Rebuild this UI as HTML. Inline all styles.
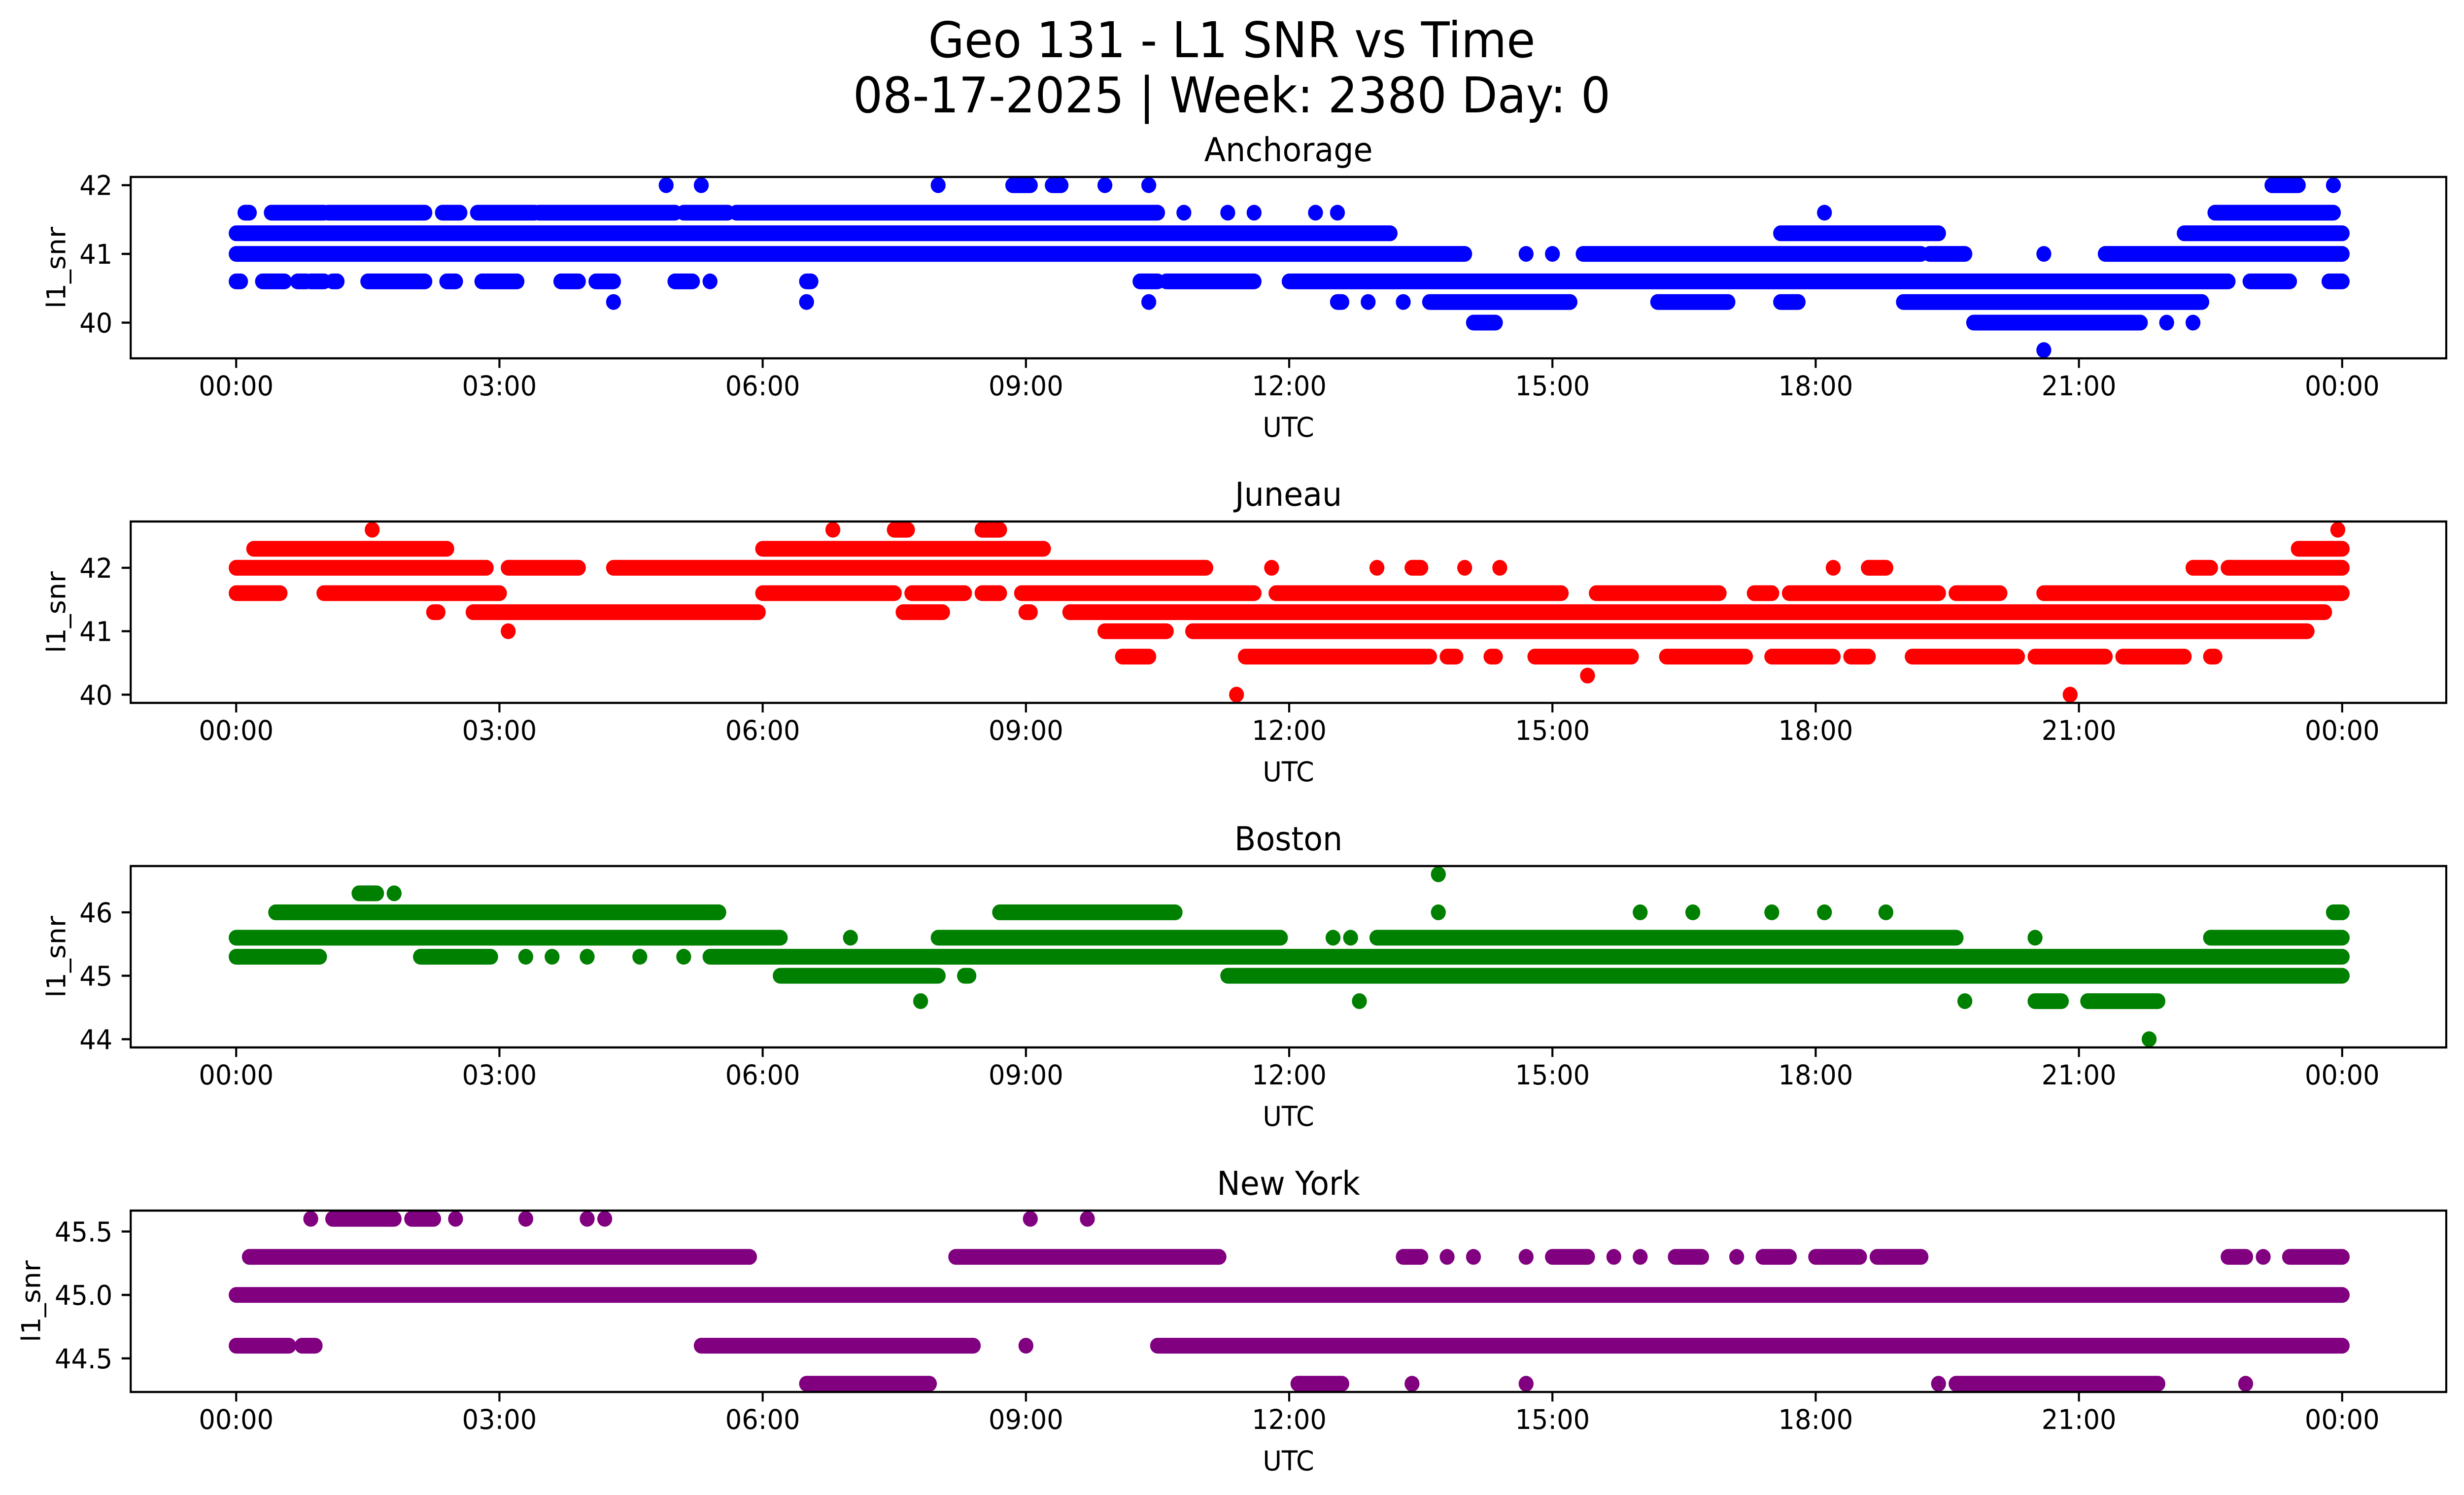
<!DOCTYPE html>
<html><head><meta charset="utf-8"><style>
html,body{margin:0;padding:0;background:#fff;overflow:hidden;width:100%;height:100%}
svg{display:block;width:100vw;height:100vh}
text{font-family:"DejaVu Sans","Liberation Sans",sans-serif;fill:#000}
</style></head><body>
<svg id="chart" viewBox="0 0 5279 3033" preserveAspectRatio="none" xmlns="http://www.w3.org/2000/svg">
<rect width="5279" height="3033" fill="#fff"/>
<text x="2639" y="116" font-size="100" text-anchor="middle">Geo 131 - L1 SNR vs Time</text>
<text x="2639" y="228" font-size="100" text-anchor="middle">08-17-2025 | Week: 2380 Day: 0</text>
</svg>
<script>
// x tick labels (hours)
const xTickHours = [0,3,6,9,12,15,18,21,24];
const xTickLabels = ["00:00","03:00","06:00","09:00","12:00","15:00","18:00","21:00","00:00"];
// station names, colors
const stations = ["Anchorage","Juneau","Boston","New York"];
const colors = ["#0000ff","#ff0000","#008000","#800080"];
const yTicks = [[40,41,42],[40,41,42],[44,45,46],[44.5,45.0,45.5]];
const yTickLabels = [["40","41","42"],["40","41","42"],["44","45","46"],["44.5","45.0","45.5"]];
// runs of observations: [snr level, start hour, end hour]
const anchorageRuns = [
[41.3,0,13.15],[41.3,17.6,19.4],[41.3,22.2,24],
[41,0,14.0],[41,14.7,14.7],[41,15.0,15.0],[41,15.35,19.2],[41,19.3,19.7],[41,20.6,20.6],[41,21.3,24],
[41.6,0.1,0.15],[41.6,0.4,1.0],[41.6,1.05,2.15],[41.6,2.35,2.55],[41.6,2.75,3.4],[41.6,3.45,5.0],[41.6,5.1,5.6],[41.6,5.7,10.5],[41.6,10.8,10.8],[41.6,11.3,11.3],[41.6,11.6,11.6],[41.6,12.3,12.3],[41.6,12.55,12.55],[41.6,18.1,18.1],[41.6,22.55,23.9],
[42,4.9,4.9],[42,5.3,5.3],[42,8.0,8.0],[42,8.85,9.05],[42,9.3,9.4],[42,9.9,9.9],[42,10.4,10.4],[42,23.2,23.5],[42,23.9,23.9],
[40.6,0,0.05],[40.6,0.3,0.55],[40.6,0.7,0.8],[40.6,0.85,1.0],[40.6,1.1,1.15],[40.6,1.5,2.15],[40.6,2.4,2.5],[40.6,2.8,3.2],[40.6,3.7,3.9],[40.6,4.1,4.3],[40.6,5.0,5.2],[40.6,5.4,5.4],[40.6,6.5,6.55],[40.6,10.3,10.5],[40.6,10.6,11.6],[40.6,12.0,22.7],[40.6,22.95,23.4],[40.6,23.85,24],
[40.3,4.3,4.3],[40.3,6.5,6.5],[40.3,10.4,10.4],[40.3,12.55,12.6],[40.3,12.9,12.9],[40.3,13.3,13.3],[40.3,13.6,15.2],[40.3,16.2,17.0],[40.3,17.6,17.8],[40.3,19.0,22.4],
[40,14.1,14.35],[40,19.8,21.7],[40,22.0,22.0],[40,22.3,22.3],
[39.6,20.6,20.6]];
const juneauRuns = [
[42.3,0.2,2.4],[42.3,6.0,9.2],[42.3,23.5,24],
[42,0,2.85],[42,3.1,3.9],[42,4.3,11.05],[42,11.8,11.8],[42,13.0,13.0],[42,13.4,13.5],[42,14.0,14.0],[42,14.4,14.4],[42,18.2,18.2],[42,18.6,18.8],[42,22.3,22.5],[42,22.7,24],
[41.6,0,0.5],[41.6,1.0,3.0],[41.6,6.0,7.5],[41.6,7.7,8.3],[41.6,8.5,8.7],[41.6,8.95,11.6],[41.6,11.85,15.1],[41.6,15.5,16.9],[41.6,17.3,17.5],[41.6,17.7,19.4],[41.6,19.6,20.1],[41.6,20.6,24],
[41.3,2.25,2.3],[41.3,2.7,5.95],[41.3,7.6,8.05],[41.3,9.0,9.05],[41.3,9.5,23.8],
[41,3.1,3.1],[41,9.9,10.6],[41,10.9,23.6],
[40.6,10.1,10.4],[40.6,11.5,13.6],[40.6,13.8,13.9],[40.6,14.3,14.35],[40.6,14.8,15.9],[40.6,16.3,17.2],[40.6,17.5,18.2],[40.6,18.4,18.6],[40.6,19.1,20.3],[40.6,20.5,21.3],[40.6,21.5,22.2],[40.6,22.5,22.55],
[40.3,15.4,15.4],[40,11.4,11.4],[40,20.9,20.9],
[42.6,1.55,1.55],[42.6,6.8,6.8],[42.6,7.5,7.65],[42.6,8.5,8.7],[42.6,23.95,23.95]];
const bostonRuns = [
[46.6,13.7,13.7],[46.3,1.4,1.6],[46.3,1.8,1.8],
[46,0.45,5.5],[46,8.7,10.7],[46,13.7,13.7],[46,16.0,16.0],[46,16.6,16.6],[46,17.5,17.5],[46,18.1,18.1],[46,18.8,18.8],[46,23.9,24],
[45.6,0,6.2],[45.6,7.0,7.0],[45.6,8.0,11.9],[45.6,12.5,12.5],[45.6,12.7,12.7],[45.6,13.0,19.6],[45.6,20.5,20.5],[45.6,22.5,24],
[45.3,0,0.95],[45.3,2.1,2.9],[45.3,3.3,3.3],[45.3,3.6,3.6],[45.3,4.0,4.0],[45.3,4.6,4.6],[45.3,5.1,5.1],[45.3,5.4,24],
[45,6.2,8.0],[45,8.3,8.35],[45,11.3,24],
[44.6,7.8,7.8],[44.6,12.8,12.8],[44.6,19.7,19.7],[44.6,20.5,20.8],[44.6,21.1,21.9],
[44,21.8,21.8]];
const newYorkRuns = [
[45.6,0.85,0.85],[45.6,1.1,1.8],[45.6,2.0,2.25],[45.6,2.5,2.5],[45.6,3.3,3.3],[45.6,4.0,4.0],[45.6,4.2,4.2],[45.6,9.05,9.05],[45.6,9.7,9.7],
[45.3,0.15,5.85],[45.3,8.2,11.2],[45.3,13.3,13.5],[45.3,13.8,13.8],[45.3,14.1,14.1],[45.3,14.7,14.7],[45.3,15.0,15.4],[45.3,15.7,15.7],[45.3,16.0,16.0],[45.3,16.4,16.7],[45.3,17.1,17.1],[45.3,17.4,17.7],[45.3,18.0,18.5],[45.3,18.7,19.2],[45.3,22.7,22.9],[45.3,23.1,23.1],[45.3,23.4,24],
[45,0,24],
[44.6,0,0.6],[44.6,0.75,0.9],[44.6,5.3,8.4],[44.6,9.0,9.0],[44.6,10.5,24],
[44.3,6.5,7.9],[44.3,12.1,12.6],[44.3,13.4,13.4],[44.3,14.7,14.7],[44.3,19.4,19.4],[44.3,19.6,21.9],[44.3,22.9,22.9]];
const allRuns = [anchorageRuns, juneauRuns, bostonRuns, newYorkRuns];

const NS = "http://www.w3.org/2000/svg";
const svg = document.getElementById("chart");
const AX_L = 280, AX_R = 5241, AX_H = 368, TOPS = [359,1058,1757,2456];
const X0 = 506, PX_PER_H = 188;
function xScale(h){ return X0 + h*PX_PER_H; }
function mk(tag, attrs, parent){ const e=document.createElementNS(NS,tag); for(const k in attrs) e.setAttribute(k,attrs[k]); (parent||svg).appendChild(e); return e; }

stations.forEach((name, i) => {
  const runs = allRuns[i];
  const vals = runs.map(r=>r[0]);
  const lo = Math.min(...vals), hi = Math.max(...vals), pad = (hi-lo)*0.05;
  const yMin = lo-pad, yMax = hi+pad, top = TOPS[i];
  const yScale = v => top + (yMax - v)/(yMax - yMin)*AX_H;
  const slug = name.toLowerCase().replace(/ /g,'-');
  const g = mk("g",{});
  
  
  const title = mk("text",{x:(AX_L+AX_R)/2, y:top-32, "font-size":67, "text-anchor":"middle"}, g);
  title.textContent = name;
  
  
  const clip = mk("clipPath",{id:"clip"+i}, g);
  mk("rect",{x:AX_L,y:top,width:AX_R-AX_L,height:AX_H}, clip);
  const pts = mk("g",{"clip-path":"url(#clip"+i+")"}, g);
  
  
  runs.forEach(r => {
    const y = yScale(r[0]);
    const m = mk("line",{x1:xScale(r[1]),x2:xScale(r[2]),y1:y,y2:y,stroke:colors[i],"stroke-width":32,"stroke-linecap":"round"}, pts);
    
    
  });
  const sp = mk("rect",{x:AX_L,y:top,width:AX_R-AX_L,height:AX_H,fill:"none",stroke:"#000","stroke-width":4.4}, g);
  
  
  xTickHours.forEach((h, k) => {
    const x = xScale(h);
    mk("line",{x1:x,x2:x,y1:top+AX_H,y2:top+AX_H+19.4,stroke:"#000","stroke-width":4.4}, g);
    const t = mk("text",{x:x, y:top+AX_H+75, "font-size":55.6, "text-anchor":"middle"}, g);
    t.textContent = xTickLabels[k];
    
    
  });
  yTicks[i].forEach((v, k) => {
    const y = yScale(v);
    mk("line",{x1:AX_L-19.4,x2:AX_L,y1:y,y2:y,stroke:"#000","stroke-width":4.4}, g);
    const t = mk("text",{x:AX_L-39, y:y+20, "font-size":55.6, "text-anchor":"end"}, g);
    t.textContent = yTickLabels[i][k];
    
    
  });
  const xl = mk("text",{x:(AX_L+AX_R)/2, y:top+AX_H+159, "font-size":55.6, "text-anchor":"middle"}, g);
  xl.textContent = "UTC";
  
  
  const yx = i===3 ? 86 : 140;
  const yl = mk("text",{x:yx, y:top+AX_H/2, "font-size":55.6, "text-anchor":"middle", transform:"rotate(-90 "+yx+" "+(top+AX_H/2)+")"}, g);
  yl.textContent = "l1_snr";
  
  
});
</script>
</body></html>
